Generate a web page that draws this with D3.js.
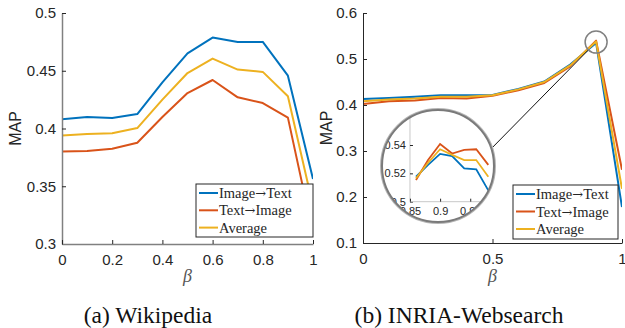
<!DOCTYPE html>
<html>
<head>
<meta charset="utf-8">
<script src="https://cdn.jsdelivr.net/npm/d3@7"></script>
<style>
  body { margin: 0; background: #fff; }
  .tick line { stroke: #262626; }
  .tick text { fill: #262626; }
</style>
</head>
<body>
<svg id="chart" width="625" height="328"></svg>
<script>
// ---------- data ----------
const beta = [0, 0.1, 0.2, 0.3, 0.4, 0.5, 0.6, 0.7, 0.8, 0.9, 1];
const seriesNames = [["Image", "\u2192", "Text"], ["Text", "\u2192", "Image"], ["Average"]];
const seriesColors = ["#0072BD", "#D95319", "#EDB120"];

// (a) Wikipedia
const wikiImgTxt = [0.408, 0.410, 0.409, 0.4125, 0.440, 0.465, 0.4787, 0.4748, 0.4750, 0.4457, 0.3563];
const wikiTxtImg = [0.380, 0.3805, 0.3825, 0.3877, 0.410, 0.4307, 0.442, 0.427, 0.422, 0.4094, 0.309];
const wikiAvg = [0.394, 0.3952, 0.3958, 0.4004, 0.425, 0.448, 0.4605, 0.451, 0.449, 0.4279, 0.3329];

// (b) INRIA-Websearch
const inriaImgTxt = [0.413, 0.415, 0.418, 0.421, 0.421, 0.422, 0.435, 0.451, 0.488, 0.535, 0.178];
const inriaTxtImg = [0.402, 0.408, 0.410, 0.415, 0.414, 0.420, 0.432, 0.448, 0.484, 0.540, 0.259];
const inriaAvg = [0.408, 0.412, 0.414, 0.418, 0.418, 0.421, 0.434, 0.450, 0.486, 0.538, 0.218];

// zoomed inset around beta = 0.9
const zoomBeta = [0.86, 0.88, 0.90, 0.92, 0.94, 0.96, 0.98];
const zoomImgTxt = [0.5176, 0.526, 0.5337, 0.5322, 0.5235, 0.5229, 0.508];
const zoomTxtImg = [0.5153, 0.5294, 0.5407, 0.534, 0.5365, 0.537, 0.526];
const zoomAvg = [0.5165, 0.5275, 0.537, 0.533, 0.5294, 0.5294, 0.5176];

const wikiXTicks = [0, 0.2, 0.4, 0.6, 0.8, 1];
const wikiYTicks = [0.3, 0.35, 0.4, 0.45, 0.5];
const inriaXTicks = [0, 0.5, 1];
const inriaYTicks = [0.1, 0.2, 0.3, 0.4, 0.5, 0.6];
const zoomXTicks = [0.85, 0.9, 0.95];
const zoomYTicks = [0.5, 0.52, 0.54];

const SANS = "'Liberation Sans', Arial, Helvetica, sans-serif";
const SERIF = "'Liberation Serif', 'Times New Roman', serif";

// ---------- setup ----------
const svg = d3.select("#chart");
const fmt = d => String(+d.toFixed(2));

function drawPanel(opt) {
    const x = d3.scaleLinear().domain([0, 1]).range([opt.x0, opt.x1]);
    const y = d3.scaleLinear().domain(opt.yDomain).range([opt.y1, opt.y0]);
    const g = svg.append("g");

    // lines
    const line = d3.line().x((d, i) => x(beta[i])).y(d => y(d));
    const clipId = "clip-" + opt.id;
    g.append("clipPath").attr("id", clipId)
        .append("rect")
        .attr("x", opt.x0).attr("y", opt.y0)
        .attr("width", opt.x1 - opt.x0).attr("height", opt.y1 - opt.y0);
    opt.series.forEach((s, k) => {
        g.append("path")
            .datum(s)
            .attr("clip-path", `url(#${clipId})`)
            .attr("fill", "none")
            .attr("stroke", seriesColors[k])
            .attr("stroke-width", 2)
            .attr("stroke-linejoin", "round")
            .attr("d", line);
    });

    // axes (inward ticks, no box)
    const yAxis = g.append("g")
        .attr("transform", `translate(${opt.x0},0)`)
        .call(d3.axisLeft(y).tickValues(opt.yTicks).tickFormat(fmt)
            .tickSizeInner(-4).tickSizeOuter(0).tickPadding(6));
    const xAxis = g.append("g")
        .attr("transform", `translate(0,${opt.y1})`)
        .call(d3.axisBottom(x).tickValues(opt.xTicks).tickFormat(fmt)
            .tickSizeInner(-4).tickSizeOuter(0).tickPadding(10));
    [yAxis, xAxis].forEach(a => {
        a.select(".domain").attr("stroke", opt.axisColor).attr("stroke-width", opt.axisWidth);
        a.selectAll("text").style("font-size", "15px").style("font-family", SANS);
    });

    // axis labels
    g.append("text")
        .attr("transform", `translate(${opt.mapX},${(opt.y0 + opt.y1) / 2}) rotate(-90)`)
        .attr("text-anchor", "middle")
        .style("font-family", SANS)
        .style("font-size", "16px")
        .attr("fill", "#262626")
        .text("MAP");
    g.append("text")
        .attr("x", (opt.x0 + opt.x1) / 2)
        .attr("y", 282)
        .attr("text-anchor", "middle")
        .style("font-family", SERIF)
        .style("font-style", "italic")
        .style("font-size", "18px")
        .attr("fill", "#555")
        .text("\u03b2");

    // caption
    svg.append("text")
        .attr("x", opt.capX)
        .attr("y", 323)
        .attr("text-anchor", "middle")
        .style("font-family", SERIF)
        .style("font-size", "23.5px")
        .attr("fill", "#111")
        .text(opt.caption);

    return { g, x, y };
}

function drawLegend(lx, ly, w, h, rowGap) {
    const lg = svg.append("g").attr("transform", `translate(${lx},${ly})`);
    lg.append("rect")
        .attr("width", w).attr("height", h)
        .attr("fill", "#fff").attr("stroke", "#262626").attr("stroke-width", 1);
    seriesNames.forEach((parts, k) => {
        const cy = 9 + k * rowGap;
        lg.append("line")
            .attr("x1", 3).attr("x2", 22).attr("y1", cy).attr("y2", cy)
            .attr("stroke", seriesColors[k]).attr("stroke-width", 2);
        const t = lg.append("text")
            .attr("x", 23).attr("y", cy + 5)
            .style("font-family", SERIF)
            .style("font-size", "14.5px")
            .attr("fill", "#262626");
        parts.forEach(p => {
            const ts = t.append("tspan").text(p);
            if (p === "\u2192") ts.style("font-family", "'DejaVu Serif', serif").style("font-size", "13px");
        });
    });
}

// ---------- (a) Wikipedia ----------
drawPanel({
    id: "a", x0: 62, x1: 313, y0: 13, y1: 244, yDomain: [0.3, 0.5],
    series: [wikiImgTxt, wikiTxtImg, wikiAvg],
    xTicks: wikiXTicks, yTicks: wikiYTicks,
    axisColor: "#808080", axisWidth: 1.5, mapX: 21, capX: 148,
    caption: "(a) Wikipedia"
});
drawLegend(196, 184, 117, 53, 17.3);

// ---------- (b) INRIA-Websearch ----------
const pb = drawPanel({
    id: "b", x0: 363, x1: 622, y0: 13, y1: 243, yDomain: [0.1, 0.6],
    series: [inriaImgTxt, inriaTxtImg, inriaAvg],
    xTicks: inriaXTicks, yTicks: inriaYTicks,
    axisColor: "#262626", axisWidth: 1, mapX: 332, capX: 459,
    caption: "(b) INRIA-Websearch"
});

// magnifier: small circle at the peak, big inset circle
const peakIdx = 9;
const sc = { x: pb.x(beta[peakIdx]), y: pb.y(inriaTxtImg[peakIdx]) + 1.5, r: 11 };
const bc = { x: 438, y: 166, r: 56 };
const endAng = -18 * Math.PI / 180;
const endPt = { x: bc.x + bc.r * Math.cos(endAng), y: bc.y + bc.r * Math.sin(endAng) };
const dx = endPt.x - sc.x, dy = endPt.y - sc.y, dl = Math.hypot(dx, dy);

svg.append("line")
    .attr("x1", sc.x + sc.r * dx / dl).attr("y1", sc.y + sc.r * dy / dl)
    .attr("x2", endPt.x).attr("y2", endPt.y)
    .attr("stroke", "#111").attr("stroke-width", 1);
svg.append("circle")
    .attr("cx", sc.x).attr("cy", sc.y).attr("r", sc.r)
    .attr("fill", "none").attr("stroke", "#808080").attr("stroke-width", 1.5);

const inset = svg.append("g");
inset.append("clipPath").attr("id", "clip-inset")
    .append("circle").attr("cx", bc.x).attr("cy", bc.y).attr("r", bc.r);
inset.append("circle")
    .attr("cx", bc.x).attr("cy", bc.y).attr("r", bc.r)
    .attr("fill", "#fff");
const ig = inset.append("g").attr("clip-path", "url(#clip-inset)");
const zx = d3.scaleLinear().domain([0.86, 0.98]).range([416, 488.3]);
const zy = d3.scaleLinear().domain([0.5, 0.54]).range([201.7, 145]);

const zyAxis = ig.append("g")
    .attr("transform", `translate(${zx(0.85)},0)`)
    .call(d3.axisLeft(zy).tickValues(zoomYTicks).tickFormat(fmt)
        .tickSizeInner(-3).tickSizeOuter(0).tickPadding(4));
const zxAxis = ig.append("g")
    .attr("transform", `translate(0,${zy(0.5)})`)
    .call(d3.axisBottom(zx).tickValues(zoomXTicks).tickFormat(fmt)
        .tickSizeInner(-3).tickSizeOuter(0).tickPadding(6));
zyAxis.select(".domain").attr("d", `M0,${zy(0.5)}V${bc.y - bc.r}`);
zxAxis.select(".domain").attr("d", `M${zx(0.85)},0H${bc.x + bc.r}`);
[zyAxis, zxAxis].forEach(a => {
    a.select(".domain").attr("stroke", "#c8c8c8").attr("stroke-width", 1);
    a.selectAll(".tick line").attr("stroke", "#c8c8c8");
    a.selectAll("text").style("font-size", "11px").attr("fill", "#262626")
        .style("font-family", SANS);
});

const zline = d3.line().x((d, i) => zx(zoomBeta[i])).y(d => zy(d));
[zoomImgTxt, zoomTxtImg, zoomAvg].forEach((s, k) => {
    ig.append("path")
        .datum(s)
        .attr("fill", "none")
        .attr("stroke", seriesColors[k])
        .attr("stroke-width", 1.8)
        .attr("d", zline);
});
inset.append("circle")
    .attr("cx", bc.x).attr("cy", bc.y).attr("r", bc.r + 1)
    .attr("fill", "none").attr("stroke", "#b5b5b5").attr("stroke-width", 2);
inset.append("circle")
    .attr("cx", bc.x).attr("cy", bc.y).attr("r", bc.r)
    .attr("fill", "none").attr("stroke", "#7a7a7a").attr("stroke-width", 2);

drawLegend(513, 185, 105, 54, 17.5);
</script>
</body>
</html>
